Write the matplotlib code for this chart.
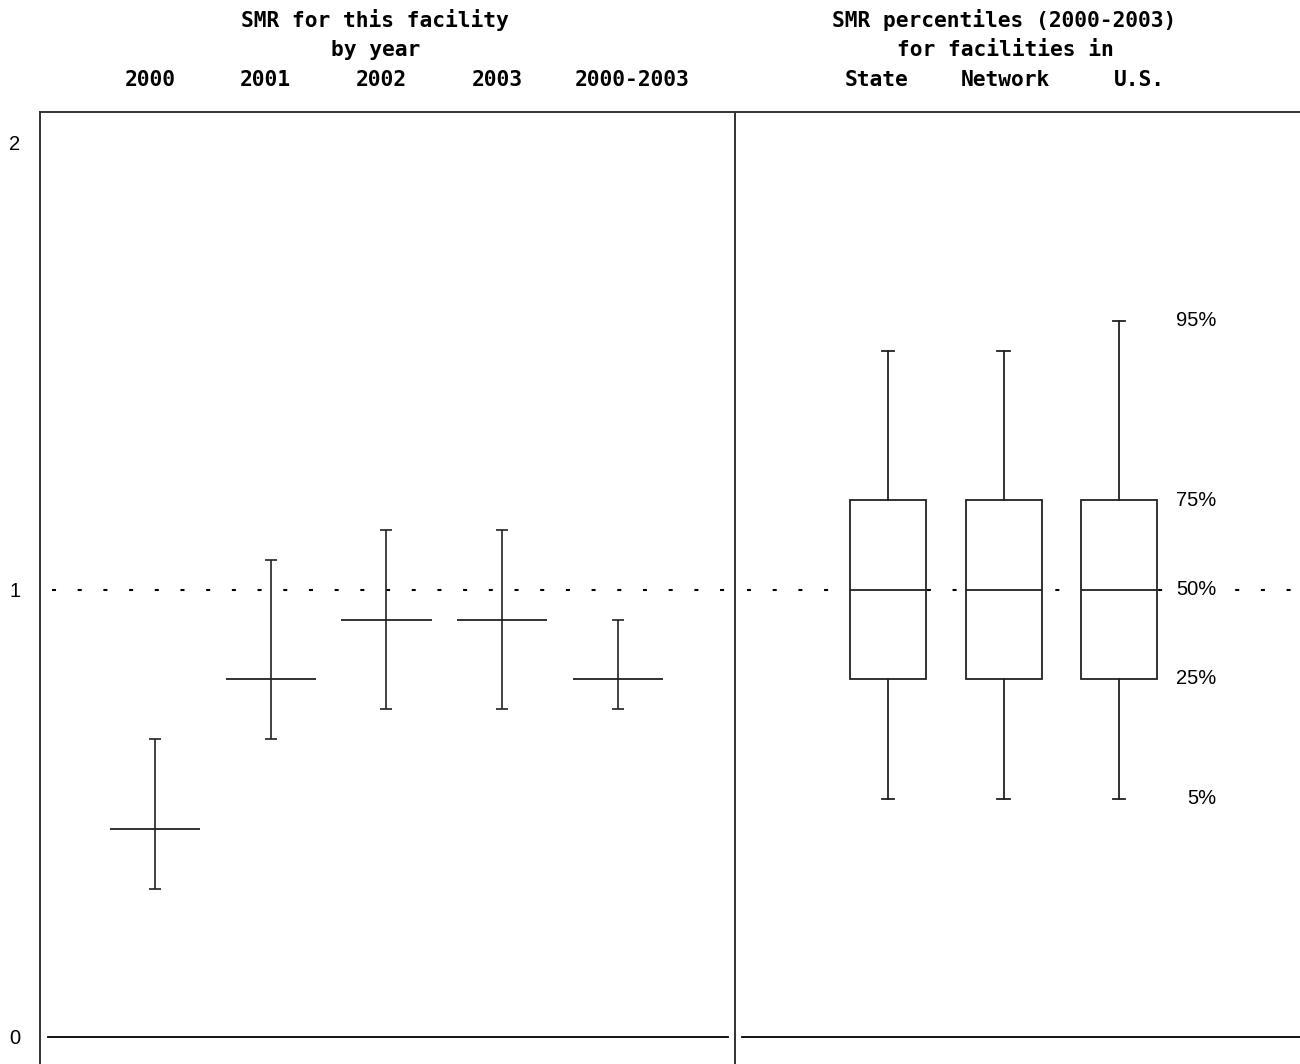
import matplotlib
matplotlib.use("Agg")
import matplotlib.pyplot as plt
import matplotlib.transforms as mtrans
import numpy as np

plt.rcParams['lines.scale_dashes'] = False

# ---------------- data ----------------
years = ['2000', '2001', '2002', '2003', '2000-2003']
smr = [0.464, 0.799, 0.932, 0.932, 0.799]
ci_low = [0.331, 0.665, 0.733, 0.733, 0.733]
ci_high = [0.665, 1.065, 1.132, 1.132, 0.932]

groups = ['State', 'Network', 'U.S.']
p05 = [0.532, 0.532, 0.532]
p25 = [0.800, 0.800, 0.800]
p50 = [1.000, 1.000, 1.000]
p75 = [1.200, 1.200, 1.200]
p95 = [1.532, 1.532, 1.600]
pct_labels = ['95%', '75%', '50%', '25%', '5%']

# ---------------- layout ----------------
W, H = 1300, 1064
fig = plt.figure(figsize=(W / 100, H / 100), dpi=100)

def fx(px):
    return px / W

def fy(py):
    return 1 - py / H

axL = fig.add_axes([fx(40), 0, 695 / W, (H - 112) / H])
axR = fig.add_axes([fx(735), 0, 565 / W, (H - 112) / H])

ylim = ((1037 - 1064) / 447.5, (1037 - 112) / 447.5)
LC = '#222222'
FC = '#333333'
for ax in (axL, axR):
    ax.set_ylim(*ylim)
    ax.set_xticks([])
    for s in ax.spines.values():
        s.set_color(FC)
        s.set_linewidth(1.4)
    ax.spines['bottom'].set_visible(False)

axL.set_xlim(-0.9935, 5.011)
axR.set_xlim(-1.3247, 3.567)
axR.spines['right'].set_visible(False)
axR.set_yticks([])

axL.set_yticks([0, 1, 2])
axL.set_yticklabels(['0', '1', '2'], fontsize=14.5, family='Liberation Sans')
axL.tick_params(axis='y', length=0, pad=14)

# reference dashed line at 1 and baseline at 0
for ax, x0, x1, w, left in ((axL, 52, 728, 695, 40), (axR, 747, 1300, 565, 735)):
    tr = mtrans.blended_transform_factory(ax.transAxes, ax.transData)
    ax.plot([(x0 - left) / w, (x1 - left) / w], [1, 1], transform=tr,
            color='black', lw=1.5, dashes=(2.9, 15.6), zorder=1)
for ax, x0, x1, w, left in ((axL, 48, 728, 695, 40), (axR, 742, 1300, 565, 735)):
    tr = mtrans.blended_transform_factory(ax.transAxes, ax.transData)
    ax.plot([(x0 - left) / w, (x1 - left) / w], [0, 0], transform=tr,
            color='black', lw=1.3, zorder=1)

# left panel: SMR with intervals
xs = np.arange(len(years))
smr_a = np.array(smr)
yerr = [smr_a - np.array(ci_low), np.array(ci_high) - smr_a]
axL.errorbar(xs, smr_a, yerr=yerr, fmt='none', ecolor=LC, elinewidth=1.2,
             capsize=4.5, capthick=1.2, zorder=3)
axL.hlines(smr_a, xs - 0.389, xs + 0.389, color=LC, lw=1.3, zorder=3)

# right panel: percentile boxes
stats = []
for i, g in enumerate(groups):
    stats.append(dict(label=g, whislo=p05[i], q1=p25[i], med=p50[i],
                      q3=p75[i], whishi=p95[i]))
xr = np.arange(len(groups))
axR.bxp(stats, positions=xr, widths=0.658, showfliers=False,
        patch_artist=True, manage_ticks=False, capwidths=0.105,
        boxprops=dict(facecolor='white', edgecolor=LC, linewidth=1.3),
        medianprops=dict(color=LC, linewidth=1.3),
        whiskerprops=dict(color=LC, linewidth=1.3),
        capprops=dict(color=LC, linewidth=1.3), zorder=3)

us_vals = [p95[-1], p75[-1], p50[-1], p25[-1], p05[-1]]
for lab, v in zip(pct_labels, us_vals):
    axR.text(xr[-1] + 0.84, v, lab, ha='right', va='center', fontsize=14.5,
             family='Liberation Sans', zorder=4,
             bbox=dict(facecolor='white', edgecolor='none', pad=2.5))

# header texts
hdr = dict(ha='center', va='center', family='DejaVu Sans Mono',
           weight='bold', fontsize=15.3)
fig.text(fx(375), fy(20), 'SMR for this facility', **hdr)
fig.text(fx(376), fy(50), 'by year', **hdr)
for lab, px in zip(years, [150, 265, 381, 497, 632]):
    fig.text(fx(px), fy(80), lab, **hdr)
fig.text(fx(1004.5), fy(20), 'SMR percentiles (2000-2003)', **hdr)
fig.text(fx(1005), fy(50), 'for facilities in', **hdr)
for lab, px in zip(groups, [876, 1005, 1139.5]):
    fig.text(fx(px), fy(80), lab, **hdr)

fig.savefig('out.png', dpi=100)
